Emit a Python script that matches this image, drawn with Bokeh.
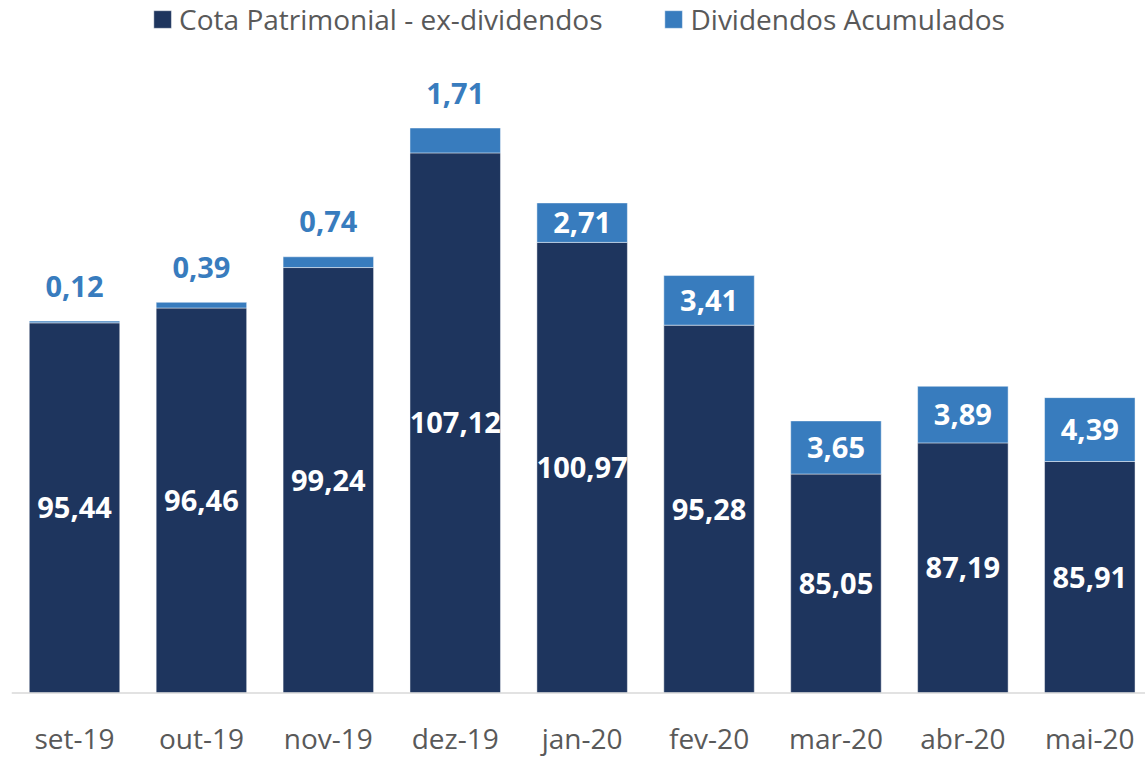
from bokeh.plotting import figure
from bokeh.models import ColumnDataSource, Range1d, Legend, LegendItem, Span
from bokeh.core.properties import value
from bokeh.embed import file_html
from bokeh.resources import INLINE

# ---- data ----
categories = ["set-19", "out-19", "nov-19", "dez-19", "jan-20",
              "fev-20", "mar-20", "abr-20", "mai-20"]
cota = [95.44, 96.46, 99.24, 107.12, 100.97, 95.28, 85.05, 87.19, 85.91]
dividendos = [0.12, 0.39, 0.74, 1.71, 2.71, 3.41, 3.65, 3.89, 4.39]
series_names = ["Cota Patrimonial - ex-dividendos", "Dividendos Acumulados"]

# ---- style ----
BASE = 70.0
DARK = "#1E355E"
BLUE = "#387CBE"
GREY_TXT = "#595959"
FONT = value("Open Sans")


def fmt(v):
    return f"{v:.2f}".replace(".", ",")


n = len(categories)
idx = list(range(n))
tops = [c + d for c, d in zip(cota, dividendos)]

p = figure(width=1145, height=757, output_backend="svg", toolbar_location=None,
           x_axis_location=None, y_axis_location=None,
           x_range=Range1d(-0.4965, 8.439), y_range=Range1d(65.567, 117.594),
           min_border_left=11, min_border_right=0, min_border_top=0, min_border_bottom=0)
p.outline_line_color = None
p.grid.visible = False
p.background_fill_color = "white"
p.border_fill_color = "white"

src = ColumnDataSource(dict(x=idx, cota=cota, div=dividendos, top=tops))
BW = 0.713
r1 = p.vbar(x="x", bottom=BASE, top="cota", width=BW, source=src,
            fill_color=DARK, line_color="white", line_alpha=0.45, line_width=1)
r2 = p.vbar(x="x", bottom="cota", top="top", width=BW, source=src,
            fill_color=BLUE, line_color="white", line_alpha=0.45, line_width=1)

p.add_layout(Span(location=BASE, dimension="width", line_color="#D9D9D9", line_width=1.5))

# value labels in dark segment
p.text(x=idx, y=[(BASE + c) / 2 for c in cota], text=[fmt(c) for c in cota],
       text_font=FONT, text_font_size="29px", text_font_style="bold",
       text_color="white", text_align="center", text_baseline="middle")

# dividend labels
inside = [i for i in idx if dividendos[i] >= 2]
above = [i for i in idx if dividendos[i] < 2]
p.text(x=inside, y=[cota[i] + dividendos[i] / 2 for i in inside],
       text=[fmt(dividendos[i]) for i in inside],
       text_font=FONT, text_font_size="29px", text_font_style="bold",
       text_color="white", text_align="center", text_baseline="middle")
p.text(x=above, y=[tops[i] for i in above], y_offset=-35,
       text=[fmt(dividendos[i]) for i in above],
       text_font=FONT, text_font_size="29px", text_font_style="bold",
       text_color=BLUE, text_align="center", text_baseline="middle")

# category labels
p.text(x=idx, y=[BASE] * n, y_offset=45, text=categories,
       text_font=FONT, text_font_size="28px", text_color=GREY_TXT,
       text_align="center", text_baseline="middle")

legend = Legend(items=[LegendItem(label=series_names[0], renderers=[r1]),
                       LegendItem(label=series_names[1], renderers=[r2])],
                location="top_center", orientation="horizontal",
                margin=0, padding=10, spacing=60, label_standoff=6,
                glyph_width=22, glyph_height=22,
                label_text_font="Open Sans", label_text_font_size="28px",
                label_text_color=GREY_TXT,
                border_line_color=None, background_fill_alpha=0)
p.add_layout(legend)

open("out.html", "w").write(file_html(p, INLINE))
